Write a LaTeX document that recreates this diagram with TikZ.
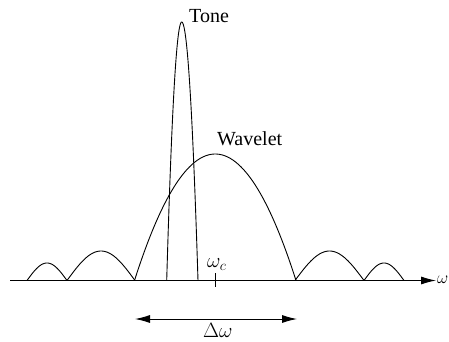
\documentclass[tikz,border=0pt]{standalone}
\usepackage[no-math]{fontspec}
\setmainfont{Liberation Serif}
\usetikzlibrary{arrows.meta}
\begin{document}
\begin{tikzpicture}[x=1pt,y=-1pt,
  curve/.style={line width=0.9pt,line join=round},
  lbl/.style={inner sep=0pt,anchor=base west,font=\fontsize{20}{24}\selectfont},
  tip/.style={-{Latex[length=15pt,width=8pt]}}]
\useasboundingbox (0,0) rectangle (449,342);
% axis
\coordinate (a0) at (10,280.5);
\coordinate (a1) at (436,280.5);
\draw[line width=0.9pt,tip] (a0) -- (a1);
% side lobes
\foreach \a/\b/\h in {27/67/17.5, 67/135/29.5, 295/364/29.5, 364/404/17.5}{
  \draw[curve] plot[domain=0:180,samples=40,smooth] ({\a+(\b-\a)*\x/180},{280.5-\h*sin(\x)});
}
% wavelet main lobe
\draw[curve] plot[domain=-1:1,samples=60,smooth] ({215.25+80.75*\x},{280.5-126.5*(1-\x*\x)});
% tone
\draw[curve] plot[domain=-1:0,samples=30,smooth] ({181.7+15*\x},{280.5-258.5*(1-\x*\x)})
  -- plot[domain=0:1,samples=30,smooth] ({181.7+16.3*\x},{280.5-258.5*(1-\x*\x)});
% tick
\coordinate (t0) at (215.7,273);
\coordinate (t1) at (215.7,287);
\draw[line width=0.9pt] (t0) -- (t1);
% delta omega arrow
\coordinate (d0) at (135,319);
\coordinate (d1) at (297,319);
\draw[line width=0.9pt,{Latex[length=15pt,width=8pt]}-{Latex[length=15pt,width=8pt]}] (d0) -- (d1);
% labels
\node[lbl] (tone) at (189,23) {Tone};
\node[lbl] (wav) at (217,145.7) {Wavelet};
\node[lbl] (wc) at (207,267) {$\omega_c$};
\node[lbl,font=\fontsize{17}{20}\selectfont] (w) at (437,283) {$\omega$};
\node[lbl] (dw) at (203,337) {$\Delta\omega$};
\end{tikzpicture}
\end{document}
